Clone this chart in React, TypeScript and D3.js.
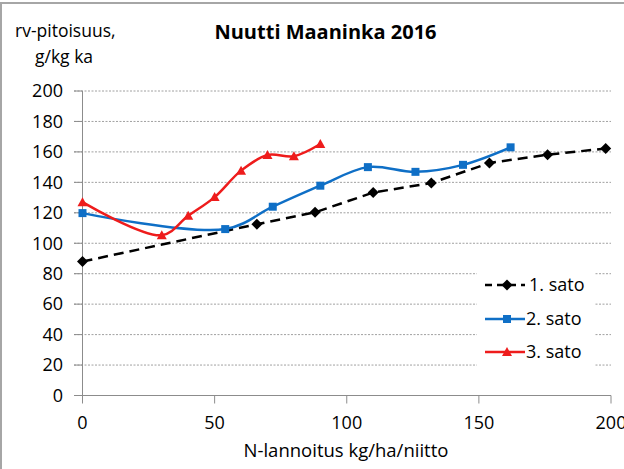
import React from "react";
import * as d3 from "d3";

const xTicks = [0, 50, 100, 150, 200];
const yTicks = [0, 20, 40, 60, 80, 100, 120, 140, 160, 180, 200];

const sato1X = [0, 66, 88, 110, 132, 154, 176, 198];
const sato1Y = [88, 112.5, 120.3, 133.3, 139.6, 152.7, 158.2, 162.2];
const sato2X = [0, 54, 72, 90, 108, 126, 144, 162];
const sato2Y = [119.8, 109.3, 124, 137.8, 150, 146.9, 151.5, 163];
const sato3X = [0, 30, 40, 50, 60, 70, 80, 90];
const sato3Y = [127, 105.3, 118, 130.3, 147.7, 158, 157.2, 165.2];

const seriesNames = ["1. sato", "2. sato", "3. sato"];

const W = 624;
const H = 469;
const FONT = "'Open Sans', sans-serif";

export default function App() {
  const x = d3.scaleLinear().domain([0, 200]).range([82.5, 611]);
  const y = d3.scaleLinear().domain([0, 200]).range([395.5, 91]);

  const mk = (xs: number[], ys: number[]) => xs.map((v, i) => [v, ys[i]] as [number, number]);
  const s1 = mk(sato1X, sato1Y);
  const s2 = mk(sato2X, sato2Y);
  const s3 = mk(sato3X, sato3Y);

  const linear = d3.line<[number, number]>().x(d => x(d[0])).y(d => y(d[1]));
  const smooth = d3
    .line<[number, number]>()
    .x(d => x(d[0]))
    .y(d => y(d[1]))
    .curve(d3.curveCatmullRom.alpha(0.5));

  const diamond = (cx: number, cy: number, r = 5.5) =>
    `M${cx},${cy - r}L${cx + r},${cy}L${cx},${cy + r}L${cx - r},${cy}Z`;
  const tri = (cx: number, cy: number, r = 5) =>
    `M${cx},${cy - r}L${cx + r},${cy + r * 0.8}L${cx - r},${cy + r * 0.8}Z`;

  const BLUE = "#0f6fc6";
  const RED = "#ee1c1c";

  const legendX1 = 485;
  const legendX2 = 525;
  const legendMid = 507;
  const legendYs = [285, 319, 352];

  return (
    <svg
      width={W}
      height={H}
      style={{ position: "absolute", left: 0, top: 0, background: "#fff" }}
      fontFamily={FONT}
    >
      <rect x={0} y={0} width={W} height={H} fill="#fff" />
      <rect x={1} y={3} width={W + 10} height={H + 10} fill="none" stroke="#a6a6a6" strokeWidth={2} />

      {/* gridlines */}
      {yTicks.filter(t => t > 0).map(t => (
        <line
          key={"g" + t}
          x1={74}
          x2={611}
          y1={y(t)}
          y2={y(t)}
          stroke="#a0a0a0"
          strokeWidth={1}
          strokeDasharray="2,1.5"
        />
      ))}

      {/* axes */}
      <line x1={x(0)} x2={x(0)} y1={y(200)} y2={y(0)} stroke="#8c8c8c" strokeWidth={1} />
      <line x1={74} x2={x(200)} y1={y(0)} y2={y(0)} stroke="#8c8c8c" strokeWidth={1} />
      {yTicks.map(t => (
        <line key={"yt" + t} x1={74} x2={x(0)} y1={y(t)} y2={y(t)} stroke="#8c8c8c" strokeWidth={1} />
      ))}
      {xTicks.map(t => (
        <line key={"xt" + t} x1={x(t)} x2={x(t)} y1={y(0)} y2={y(0) + 8} stroke="#8c8c8c" strokeWidth={1} />
      ))}

      {/* tick labels */}
      {yTicks.map(t => (
        <text key={"yl" + t} x={63} y={y(t) + 6.3} textAnchor="end" fontSize={18} fill="#000">
          {t}
        </text>
      ))}
      {xTicks.map(t => (
        <text key={"xl" + t} x={x(t)} y={429} textAnchor="middle" fontSize={18} fill="#000">
          {t}
        </text>
      ))}

      {/* titles */}
      <text x={325.5} y={39} textAnchor="middle" fontSize={20} fontWeight="bold" fill="#000">
        Nuutti Maaninka 2016
      </text>
      <text x={15} y={37} fontSize={17.5} fill="#000">rv-pitoisuus,</text>
      <text x={35} y={63} fontSize={17.5} fill="#000">g/kg ka</text>
      <text x={346} y={457} textAnchor="middle" fontSize={18.5} fill="#000">
        N-lannoitus kg/ha/niitto
      </text>

      {/* series */}
      <path d={linear(s1) || ""} fill="none" stroke="#000" strokeWidth={2.5} strokeDasharray="10,6" />
      <path d={smooth(s2) || ""} fill="none" stroke={BLUE} strokeWidth={2.5} />
      <path d={smooth(s3) || ""} fill="none" stroke={RED} strokeWidth={2.5} />

      {s1.map((d, i) => (
        <path key={"m1" + i} d={diamond(x(d[0]), y(d[1]))} fill="#000" />
      ))}
      {s2.map((d, i) => (
        <rect key={"m2" + i} x={x(d[0]) - 4} y={y(d[1]) - 4} width={8} height={8} fill={BLUE} />
      ))}
      {s3.map((d, i) => (
        <path key={"m3" + i} d={tri(x(d[0]), y(d[1]))} fill={RED} />
      ))}

      {/* legend */}
      <rect x={477} y={266} width={118} height={104} fill="#fff" />
      <line x1={legendX1} x2={legendX2} y1={legendYs[0]} y2={legendYs[0]} stroke="#000" strokeWidth={2.5} strokeDasharray="7,5" />
      <path d={diamond(legendMid, legendYs[0])} fill="#000" />
      <line x1={legendX1} x2={legendX2} y1={legendYs[1]} y2={legendYs[1]} stroke={BLUE} strokeWidth={2.5} />
      <rect x={legendMid - 4} y={legendYs[1] - 4} width={8} height={8} fill={BLUE} />
      <line x1={legendX1} x2={legendX2} y1={legendYs[2]} y2={legendYs[2]} stroke={RED} strokeWidth={2.5} />
      <path d={tri(legendMid, legendYs[2])} fill={RED} />
      {seriesNames.map((n, i) => (
        <text key={n} x={i === 0 ? 529 : 526} y={legendYs[i] + 6} fontSize={18} fill="#000">
          {n}
        </text>
      ))}
    </svg>
  );
}
